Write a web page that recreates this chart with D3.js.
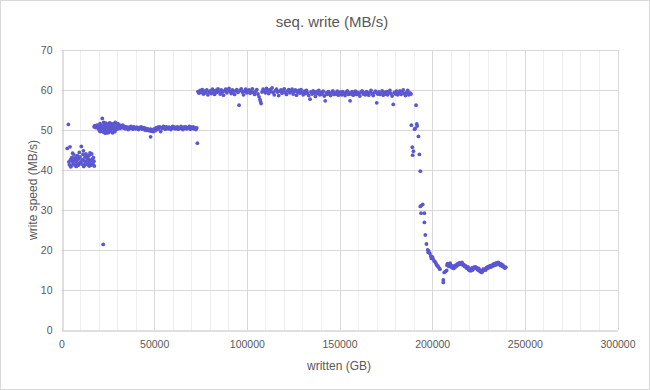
<!DOCTYPE html>
<html>
<head>
<meta charset="utf-8">
<script src="https://cdn.jsdelivr.net/npm/d3@7"></script>
<style>
  body { margin: 0; background: #fff; }
  svg text { font-family: "Liberation Sans", Arial, sans-serif; fill: #595959; }
</style>
</head>
<body>
<div id="chart"></div>
<script>
// x = written (GB), y = write speed (MB/s)

// first phase around 42 MB/s
const phaseLow = [[3700,51.4],[3100,45.4],[4600,45.8],[4000,42.0],[4300,41.3],[4900,42.6],[5200,41.0],[5500,43.1],[5800,42.2],[6000,44.2],[6300,41.6],[6700,43.8],[7000,42.4],[7300,41.1],[7600,43.0],[7900,42.1],[8200,41.4],[8500,43.6],[8800,42.7],[9100,41.2],[9400,42.9],[9700,41.8],[10000,43.3],[10300,42.0],[10700,45.9],[11000,41.5],[11300,42.6],[11600,43.9],[11800,44.8],[12100,42.3],[12400,41.2],[12700,43.2],[13000,42.1],[13300,41.7],[13600,43.4],[13900,42.5],[14200,41.3],[14500,42.8],[14800,43.6],[15100,41.9],[15400,44.3],[15700,42.4],[16000,41.2],[16300,44.0],[16600,42.7],[16900,41.6],[17200,43.1],[17500,42.2],[17700,41.0],[5000,40.8],[8000,40.9],[12000,40.9],[15000,41.0],[6500,42.9],[9600,44.4],[13200,44.0],[22500,21.4]];

// plateau around 50 MB/s
const phase50 = [[17600,50.8],[18000,51.1],[18400,50.6],[18800,50.9],[19200,51.2],[19600,50.5],[20000,50.9],[20200,50.3],[20400,49.8],[20800,51.6],[21000,49.6],[21200,50.2],[21600,51.0],[21800,50.7],[22000,52.9],[22300,50.4],[22600,49.5],[22800,51.9],[23000,51.3],[23300,50.0],[23600,49.2],[23800,50.8],[24000,51.7],[24300,50.6],[24600,49.7],[24800,49.3],[25000,51.4],[25300,50.3],[25600,49.4],[25800,50.9],[26000,51.8],[26300,50.8],[26600,49.9],[26800,51.6],[27000,51.2],[27300,50.4],[27600,49.3],[27800,50.5],[28000,51.5],[28300,50.7],[28600,49.8],[28800,49.6],[29000,51.9],[29300,50.5],[29600,51.1],[30000,50.2],[30400,51.6],[30800,50.9],[31200,51.3],[31600,50.4],[32000,51.0],[32500,50.7],[33000,51.2],[33500,50.5],[34000,50.9],[34500,50.3],[35000,50.8],[35500,50.6],[36000,50.1],[36500,50.7],[37000,50.4],[37500,50.9],[38000,50.5],[38500,50.2],[39000,50.8],[39500,50.6],[40000,50.3],[40500,50.7],[41000,50.5],[41500,50.1],[42000,50.6],[42500,50.4],[43000,50.8],[43500,50.2],[44000,50.5],[44500,50.6],[45000,50.0],[45500,50.4],[46000,49.9],[46500,50.3],[47000,50.1],[47500,49.8],[48000,50.2],[48100,48.3],[48500,49.7],[49000,50.0],[49500,49.6],[50000,50.3],[50500,49.8],[51000,50.5],[51500,50.1],[52000,50.7],[52500,50.3],[53000,50.8],[53500,49.6],[54000,50.6],[54500,50.4],[55000,50.9],[55500,50.5],[56000,50.2],[56500,50.8],[57000,50.6],[57500,50.3],[58000,50.7],[58500,50.5],[59000,50.1],[59500,50.6],[60000,50.9],[60500,50.4],[61000,50.7],[61500,50.3],[62000,50.5],[62500,50.8],[63000,50.2],[63500,50.6],[64000,50.4],[64500,50.9],[65000,50.5],[65500,50.1],[66000,50.7],[66500,50.4],[67000,50.8],[67500,50.3],[68000,50.6],[68500,50.5],[69000,50.9],[69500,50.2],[70000,50.7],[70500,50.4],[71000,50.8],[71500,50.3],[72000,50.6],[72500,50.1],[73000,50.5],[73300,46.7]];

// plateau around 59-60 MB/s
const phase60 = [[73600,59.6],[74200,59.2],[74800,59.9],[75400,59.4],[76000,60.1],[76600,59.0],[77200,59.7],[77800,59.3],[78400,60.0],[79000,58.8],[79600,59.5],[80200,59.8],[80800,59.1],[81400,60.2],[82000,59.6],[82600,58.9],[83200,59.9],[83800,59.4],[84400,60.3],[85000,59.7],[85600,59.0],[86200,60.0],[86800,59.5],[87400,58.7],[88000,59.8],[88600,60.2],[89200,59.3],[89800,59.9],[90400,60.4],[91000,59.6],[91600,59.1],[92200,60.0],[92800,59.7],[93400,58.9],[94000,59.8],[94600,60.1],[95200,59.4],[95800,56.2],[96400,59.9],[97000,60.3],[97600,59.5],[98200,58.8],[98800,59.7],[99400,60.2],[100000,59.3],[100600,59.8],[101200,60.0],[101800,59.2],[102400,59.6],[103000,60.3],[103600,59.4],[104200,58.9],[104800,59.7],[105400,60.1],[106000,59.0],[106600,58.3],[107100,57.6],[107400,57.1],[107700,56.6],[108200,59.5],[108800,60.2],[109400,59.8],[110000,59.3],[110600,60.4],[111200,59.9],[111800,59.1],[112400,60.1],[113000,59.6],[113600,60.5],[114200,59.4],[114800,58.8],[115400,59.8],[116000,60.2],[116600,59.5],[117200,58.6],[117800,59.7],[118400,60.0],[119000,59.2],[119600,59.9],[120200,60.3],[120800,59.4],[121400,58.9],[122000,59.8],[122600,60.1],[123200,59.3],[123800,59.7],[124400,60.2],[125000,59.0],[125600,59.6],[126200,60.0],[126800,58.7],[127400,59.5],[128000,59.9],[128600,59.2],[129200,60.1],[129800,59.4],[130400,58.8],[131000,59.7],[131600,59.1],[132200,59.9],[132800,59.3],[133400,58.6],[134100,57.7],[134600,59.5],[135200,59.0],[135800,59.8],[136400,59.2],[137000,58.4],[137600,59.6],[138200,59.1],[138800,59.9],[139400,58.8],[140000,59.4],[140600,59.0],[141200,59.7],[141800,58.5],[142300,57.3],[142800,59.3],[143400,58.9],[144000,59.6],[144600,59.1],[145200,58.6],[145800,59.4],[146400,59.8],[147000,58.9],[147600,59.3],[148200,59.0],[148800,59.7],[149400,58.7],[150000,59.2],[150600,59.5],[151200,58.8],[151800,59.6],[152400,59.1],[153000,58.6],[153600,59.4],[154200,59.8],[154800,58.9],[155400,59.3],[155700,57.3],[156200,59.0],[156800,59.6],[157400,58.7],[158000,59.2],[158600,59.7],[159200,58.9],[159800,59.4],[160400,59.1],[161000,58.5],[161600,59.5],[162200,59.8],[162800,59.0],[163400,59.3],[164000,58.8],[164600,59.6],[165200,59.2],[165800,58.7],[166400,59.4],[167000,59.9],[167600,59.1],[168200,58.6],[168800,59.3],[169400,59.7],[170100,56.8],[170600,59.0],[171200,59.5],[171800,58.9],[172400,59.2],[173000,59.8],[173600,58.7],[174200,59.4],[174800,59.0],[175400,59.6],[176000,58.8],[176600,59.3],[177200,59.9],[177800,59.1],[178400,58.5],[179000,56.4],[179600,59.4],[180200,59.0],[180800,59.7],[181400,58.8],[182000,59.2],[182600,59.8],[183200,58.9],[183800,59.5],[184400,60.0],[185000,59.1],[185600,58.6],[186200,59.4],[186800,59.9],[187400,58.8],[188000,59.3],[188600,59.0]];

// cache exhausted: drop towards 15 MB/s
const phaseDrop = [[188800,51.2],[189300,45.7],[189900,44.7],[189500,43.7],[190500,50.2],[190800,50.4],[191300,56.2],[191700,51.5],[191900,51.0],[192600,48.4],[193100,43.9],[193600,39.7],[193600,30.9],[194100,31.1],[194900,31.4],[194000,29.2],[195800,29.2],[195800,26.9],[196300,23.75],[196900,21.5],[197600,20.0],[197900,19.4],[198100,19.8],[198700,19.2],[199200,18.5],[199600,17.9],[200100,18.3],[200400,17.9],[201000,17.3],[201500,17.1],[202000,16.7],[202400,16.25],[203000,16.0],[203300,15.8],[203900,15.4],[204200,15.2],[206000,12.5],[206000,11.9],[206500,14.4],[207200,14.6],[207800,14.9]];

const phaseTail = [[208000,16.2],[208300,16.6],[208700,16.3],[209000,15.9],[209300,16.4],[209700,16.7],[210000,16.1],[210400,15.7],[210700,16.0],[211000,15.5],[211400,15.8],[211700,15.4],[212000,16.0],[212400,15.7],[212800,16.2],[213200,16.0],[213500,16.4],[213900,16.6],[214200,16.3],[214600,16.8],[215000,16.5],[215400,16.7],[215700,16.4],[216100,16.9],[216500,16.5],[216800,16.2],[217200,16.3],[217500,15.9],[217900,16.1],[218300,15.7],[218600,15.5],[219000,15.4],[219300,15.8],[219700,15.1],[220100,14.9],[220400,15.3],[220800,14.8],[221100,15.2],[221500,15.5],[221800,15.0],[222200,15.3],[222600,15.7],[222900,15.4],[223300,15.8],[223600,15.5],[224000,15.6],[224400,15.2],[224700,15.0],[225100,15.4],[225400,14.9],[225800,14.6],[226100,14.9],[226500,14.5],[226800,14.4],[227200,14.8],[227500,15.2],[227900,14.9],[228200,15.1],[228600,15.3],[228900,15.0],[229300,15.6],[229600,15.4],[230000,15.8],[230300,15.5],[230700,15.9],[231000,15.7],[231400,16.1],[231800,15.8],[232100,15.9],[232500,16.3],[232800,16.0],[233200,16.5],[233600,16.2],[233900,16.4],[234300,16.7],[234600,16.3],[235000,16.8],[235300,16.5],[235700,16.9],[236100,16.4],[236400,16.6],[236800,16.1],[237100,16.5],[237500,16.3],[237900,15.9],[238200,16.2],[238600,15.8],[238900,15.6],[239300,15.5],[239700,15.7]];

const xTicks = [0, 50000, 100000, 150000, 200000, 250000, 300000];
const xMinorTicks = [10000,20000,30000,40000,60000,70000,80000,90000,110000,120000,130000,140000,160000,170000,180000,190000,210000,220000,230000,240000,260000,270000,280000,290000];
const yTicks = [0, 10, 20, 30, 40, 50, 60, 70];

const W = 650, H = 390;
const margin = {top: 50, right: 32.5, bottom: 60, left: 61.5};

const svg = d3.select("#chart").append("svg")
    .attr("width", W)
    .attr("height", H);

svg.append("rect")
    .attr("x", 0.5).attr("y", 0.5)
    .attr("width", W - 1).attr("height", H - 1)
    .attr("fill", "#fff")
    .attr("stroke", "#d9d9d9");

const x = d3.scaleLinear().domain([0, 300000]).range([margin.left, W - margin.right]);
const y = d3.scaleLinear().domain([0, 70]).range([H - margin.bottom, margin.top]);

// minor vertical grid
svg.append("g")
  .selectAll("line")
  .data(xMinorTicks)
  .enter()
  .append("line")
    .attr("x1", d => Math.round(x(d)) + 0.5)
    .attr("x2", d => Math.round(x(d)) + 0.5)
    .attr("y1", y(70))
    .attr("y2", y(0))
    .attr("stroke", "#efefef");

// major vertical grid
svg.append("g")
  .selectAll("line")
  .data(xTicks.slice(1))
  .enter()
  .append("line")
    .attr("x1", d => Math.round(x(d)) + 0.5)
    .attr("x2", d => Math.round(x(d)) + 0.5)
    .attr("y1", y(70))
    .attr("y2", y(0))
    .attr("stroke", "#d9d9d9");

// horizontal grid
svg.append("g")
  .selectAll("line")
  .data(yTicks.slice(1))
  .enter()
  .append("line")
    .attr("x1", x(0))
    .attr("x2", x(300000))
    .attr("y1", d => Math.round(y(d)) + 0.5)
    .attr("y2", d => Math.round(y(d)) + 0.5)
    .attr("stroke", "#d9d9d9");

// axes
const xAxis = svg.append("g")
    .attr("transform", "translate(0," + (Math.round(y(0)) + 0.5) + ")")
    .call(d3.axisBottom(x).tickValues(xTicks).tickSize(0).tickPadding(10).tickFormat(d3.format("d")));
xAxis.select(".domain").attr("stroke", "#bfbfbf");
xAxis.selectAll("text").style("font-size", "10.5px").attr("fill", "#595959");

const yAxis = svg.append("g")
    .attr("transform", "translate(" + (Math.round(x(0)) + 0.5) + ",0)")
    .call(d3.axisLeft(y).tickValues(yTicks).tickSize(0).tickPadding(10));
yAxis.select(".domain").attr("stroke", "#bfbfbf");
yAxis.selectAll("text").style("font-size", "10.5px").attr("fill", "#595959");

// points
const allPoints = phaseLow.concat(phase50, phase60, phaseDrop, phaseTail);
svg.append("g")
  .selectAll("circle")
  .data(allPoints)
  .enter()
  .append("circle")
    .attr("cx", d => x(d[0]))
    .attr("cy", d => y(d[1]))
    .attr("r", 1.9)
    .attr("fill", "#5b57d1");

// titles
svg.append("text")
    .attr("x", 332).attr("y", 27)
    .attr("text-anchor", "middle")
    .style("font-size", "15px")
    .text("seq. write (MB/s)");

svg.append("text")
    .attr("x", 339).attr("y", 370)
    .attr("text-anchor", "middle")
    .style("font-size", "12px")
    .text("written (GB)");

svg.append("text")
    .attr("transform", "translate(37,190) rotate(-90)")
    .attr("text-anchor", "middle")
    .style("font-size", "12px")
    .text("write speed (MB/s)");
</script>
</body>
</html>
